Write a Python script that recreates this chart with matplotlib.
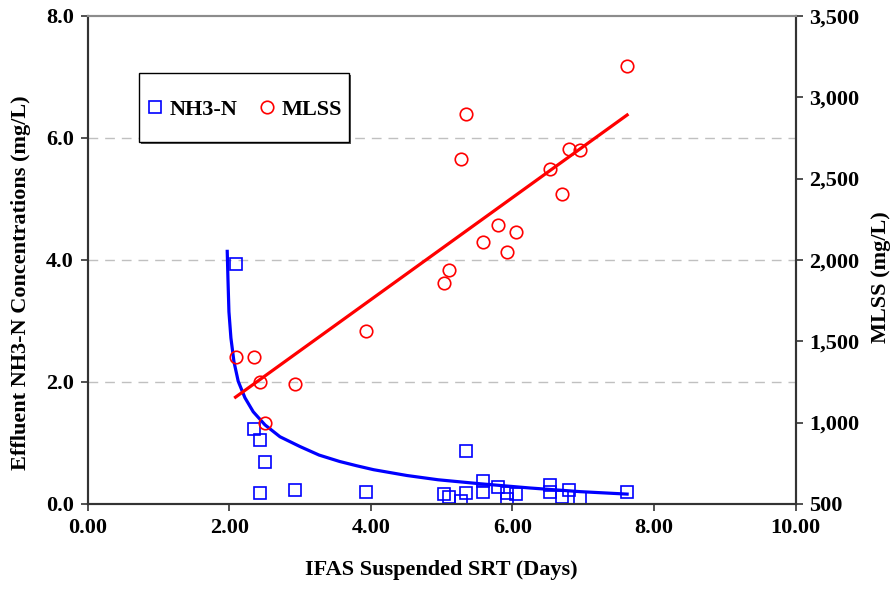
import matplotlib
matplotlib.use("Agg")
import matplotlib.pyplot as plt
from matplotlib.patches import Rectangle
from matplotlib.ticker import FuncFormatter

plt.rcParams['font.family'] = ['Liberation Serif', 'DejaVu Serif']
plt.rcParams['font.weight'] = 'bold'

# NH3-N measurements (left axis)
srt_nh3 = [2.10, 2.35, 2.43, 2.51, 2.43, 2.93, 3.93, 5.04, 5.11, 5.28, 5.34, 5.34,
           5.59, 5.59, 5.80, 5.93, 5.92, 6.05, 6.53, 6.53, 6.70, 6.80, 6.96, 7.62]
nh3 = [3.93, 1.23, 1.05, 0.68, 0.17, 0.23, 0.20, 0.165, 0.11, 0.05, 0.86, 0.18,
       0.38, 0.20, 0.28, 0.175, 0.077, 0.16, 0.31, 0.20, 0.12, 0.22, 0.10, 0.20]

# MLSS measurements (right axis)
srt_mlss = [2.10, 2.35, 2.43, 2.93, 2.50, 3.93, 5.04, 5.11, 5.28, 5.34, 5.59, 5.80,
            5.92, 6.05, 6.53, 6.70, 6.80, 6.96, 7.62]
mlss = [1400, 1400, 1250, 1240, 1000, 1563, 1857, 1938, 2619, 2897, 2113, 2215,
        2047, 2170, 2561, 2407, 2684, 2678, 3193]

# trend curve for NH3-N
trend_nh3_x = [1.973, 1.983, 1.997, 2.025, 2.068, 2.128, 2.223, 2.34, 2.506, 2.718,
               3.0, 3.27, 3.56, 3.80, 4.04, 4.51, 4.95, 5.54, 6.25, 6.96, 7.62]
trend_nh3_y = [4.14, 3.70, 3.15, 2.72, 2.33, 2.01, 1.74, 1.51, 1.295, 1.10,
               0.94, 0.80, 0.695, 0.625, 0.56, 0.465, 0.395, 0.33, 0.26, 0.20, 0.16]

# linear trend for MLSS
trend_mlss_x = [2.09, 7.62]
trend_mlss_y = [1156, 2891]

fig = plt.figure(figsize=(8.93, 5.90), dpi=100)
ax = fig.add_axes([0.098, 0.146, 0.793, 0.827])
ax2 = ax.twinx()

ax.set_xlim(0, 10)
ax.set_ylim(0, 8)
ax2.set_ylim(500, 3500)

for y in [2, 4, 6]:
    ax.axhline(y, color='#c0c0c0', lw=1.0, ls=(0, (7, 5)), zorder=0)

ax.plot(trend_nh3_x, trend_nh3_y, color='#0000ff', lw=2.3, zorder=2,
        solid_joinstyle='round')
ax.plot(srt_nh3, nh3, ls='none', marker='s', ms=8, mfc='none', mec='#0000ff',
        mew=1.2, zorder=3, label='NH3-N')
ax2.plot(trend_mlss_x, trend_mlss_y, color='#ff0000', lw=2.3, zorder=2)
ax2.plot(srt_mlss, mlss, ls='none', marker='o', ms=9, mfc='none', mec='#ff0000',
         mew=1.2, zorder=3, label='MLSS')

ax.set_xticks([0, 2, 4, 6, 8, 10])
ax.set_yticks([0, 2, 4, 6, 8])
ax2.set_yticks(range(500, 3501, 500))
ax.xaxis.set_major_formatter(FuncFormatter(lambda v, p: f"{v:.2f}"))
ax.yaxis.set_major_formatter(FuncFormatter(lambda v, p: f"{v:.1f}"))
ax2.yaxis.set_major_formatter(FuncFormatter(lambda v, p: f"{int(v):,}"))

fs = 16
for a in (ax, ax2):
    a.tick_params(direction='out', length=5, width=1.2, color='#333333',
                  labelsize=fs, pad=5)
    for s in ['left', 'right', 'bottom']:
        a.spines[s].set_color('#333333')
        a.spines[s].set_linewidth(1.5)
    a.spines['top'].set_color('#8c8c8c')
    a.spines['top'].set_linewidth(1.5)

ax.set_xlabel('IFAS Suspended SRT (Days)', fontsize=fs, fontweight='bold', labelpad=16)
ax.set_ylabel('Effluent NH3-N Concentrations (mg/L)', fontsize=fs, fontweight='bold')
ax2.set_ylabel('MLSS (mg/L)', fontsize=fs, fontweight='bold')
ax.yaxis.set_label_coords(-0.080, 0.453)
ax2.yaxis.set_label_coords(1.107, 0.465)

# legend box drawn by hand (Excel style with shadow)
box = (0.0726, 0.742, 0.2966, 0.1414)
ax2.add_patch(Rectangle((box[0] + 0.003, box[1] - 0.005), box[2], box[3],
                        transform=ax2.transAxes, facecolor='#555555',
                        edgecolor='none', zorder=9))
ax2.add_patch(Rectangle((box[0], box[1]), box[2], box[3], transform=ax2.transAxes,
                        facecolor='white', edgecolor='black', lw=1.0, zorder=10))

h1, l1 = ax.get_legend_handles_labels()
h2, l2 = ax2.get_legend_handles_labels()
leg = ax2.legend(h1 + h2, l1 + l2, ncol=2, loc='center',
                 bbox_to_anchor=(box[0] + box[2] / 2 - 0.0016, box[1] + box[3] / 2 - 0.004),
                 frameon=False, prop={'size': fs, 'weight': 'bold'},
                 handletextpad=0.15, columnspacing=0.85, handlelength=1.0)
leg.set_zorder(11)

fig.savefig('out.png', dpi=100)
